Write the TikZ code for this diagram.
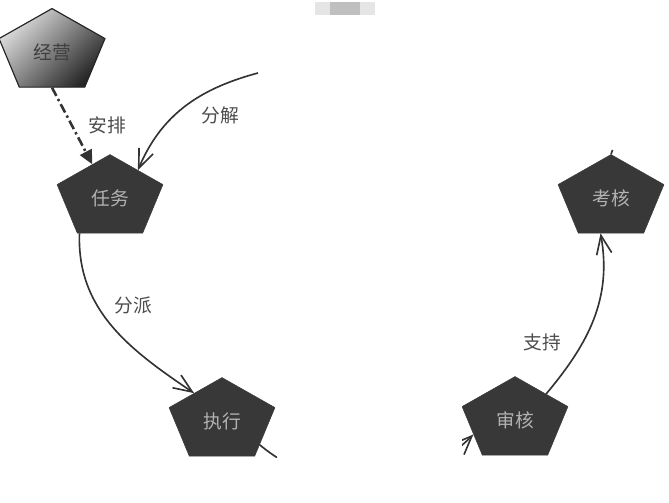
\documentclass[tikz,border=0pt]{standalone}
\usepackage{fontspec}
\usetikzlibrary{shapes.geometric,arrows.meta}
\newfontfamily\cjk{Noto Sans CJK SC}
\newcommand\tall[1]{\scalebox{1}[1.28]{#1}}

\begin{document}
\begin{tikzpicture}[x=0.03cm,y=0.03cm,
        stage/.style={regular polygon,regular polygon sides=5,minimum size=3.34cm,inner sep=0pt,
            yscale=0.78,draw=black!78,fill=black!78,text=black!30,font=\cjk\fontsize{16}{19}\selectfont},
        flow/.style={draw=black!80,line width=1.4pt,-{Straight Barb[length=16pt,width=13pt]}},
        tag/.style={text=black!70,font=\cjk\fontsize{16}{19}\selectfont}]
        \useasboundingbox (0,0) rectangle (669,503);
        \fill[black!10] (315,488) rectangle (375,501);
        \fill[black!25] (330,488) rectangle (360,501);
        \begin{scope}
        \clip (0,45) rectangle (277,503) (462,45) rectangle (669,353);
        \node[stage,draw=black!85,line width=1pt,top color=black!12,bottom color=black!85,shading angle=45,text=black!75] (jy) at (52,451) {\tall{经营}};
        \foreach \name/\x/\y/\txt in {rw/110/305/任务, zx/222/82/执行, sh/515/83/审核, kh/611/305/考核}
        \node[stage] (\name) at (\x,\y) {\tall{\txt}};
        \coordinate (fj) at (258,430);
        \coordinate (up) at (622,380);
        \draw[draw=black!80,line width=2.2pt,dash pattern=on 8pt off 3pt on 2pt off 3pt,
            -{Triangle[length=12pt,width=11pt]}] (jy.south) -- (rw);
        \draw[flow] (fj) to[out=195,in=67] (rw.52);
        \draw[flow] (rw.-124) to[out=-92,in=146] (zx.128);
        \draw[flow] (zx.-39) to[out=-40,in=225] (sh.204);
        \draw[flow] (sh.47) to[out=50,in=-80] (kh.-103);
        \draw[draw=black!80,line width=1.4pt] (kh.north) -- (up);
        \end{scope}
        \node[tag] (ap) at (107,378) {安排};
        \node[tag] (fjl) at (220,388) {分解};
        \node[tag] (fp) at (133,198) {分派};
        \node[tag] (zc) at (542,161) {支持};
\end{tikzpicture}
\end{document}
